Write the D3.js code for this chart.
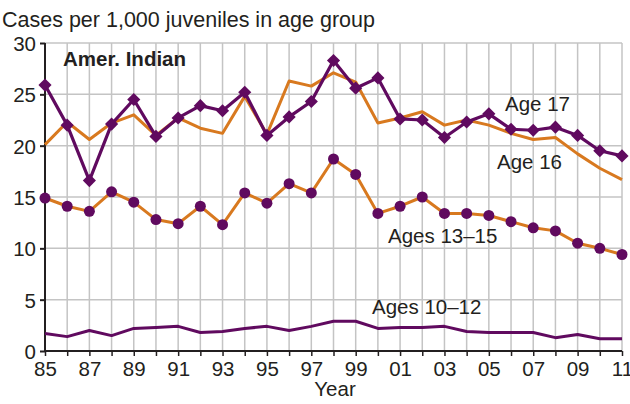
<!DOCTYPE html>
<html><head><meta charset="utf-8">
<script src="https://cdn.jsdelivr.net/npm/d3@7"></script>
<style>
body{margin:0;background:#fff;}
text{font-family:"Liberation Sans",Arial,Helvetica,sans-serif;fill:#231f20;}
</style></head>
<body>
<svg id="chart" width="630" height="404"></svg>
<script>
const years = d3.range(1985, 2012);
const age17 = [25.9,22.0,16.6,22.1,24.5,20.9,22.7,23.9,23.4,25.2,21.0,22.8,24.3,28.3,25.6,26.6,22.6,22.5,20.8,22.3,23.1,21.6,21.5,21.8,21.0,19.5,19.0];
const age16 = [20.1,22.3,20.6,22.2,23.0,21.0,22.7,21.7,21.2,24.8,21.1,26.3,25.8,27.1,26.2,22.2,22.7,23.3,22.0,22.5,22.0,21.2,20.6,20.8,19.2,17.8,16.7];
const age1315 = [14.9,14.1,13.6,15.5,14.5,12.8,12.4,14.1,12.3,15.4,14.4,16.3,15.4,18.7,17.2,13.4,14.1,15.0,13.4,13.4,13.2,12.6,12.0,11.7,10.5,10.0,9.4];
const age1012 = [1.7,1.4,2.0,1.5,2.2,2.3,2.4,1.8,1.9,2.2,2.4,2.0,2.4,2.9,2.9,2.2,2.3,2.3,2.4,1.9,1.8,1.8,1.8,1.3,1.6,1.2,1.2];
const yTicks = [0,5,10,15,20,25,30];

const purple = "#600a5f", orange = "#d8791f", grid = "#c4c4c4";
const fs = 20.5;
const svg = d3.select("#chart");
const x = d3.scaleLinear().domain([1985, 2011]).range([45, 622]);
const y = d3.scaleLinear().domain([0, 30]).range([351, 43]);

// grid
svg.append("g").selectAll("line").data(years.slice(1)).join("line")
  .attr("x1", d => x(d)).attr("x2", d => x(d)).attr("y1", y(30)).attr("y2", y(0))
  .attr("stroke", grid).attr("stroke-width", 1.5);
svg.append("g").selectAll("line").data(yTicks.slice(1)).join("line")
  .attr("x1", x(1985)).attr("x2", x(2011)).attr("y1", d => y(d)).attr("y2", d => y(d))
  .attr("stroke", grid).attr("stroke-width", 1.5);

// y axis
const yAxis = svg.append("g").attr("transform", `translate(${x(1985)},0)`)
  .call(d3.axisLeft(y).tickValues(yTicks).tickSize(5).tickPadding(4).tickFormat(d3.format("d")));
yAxis.select(".domain").attr("stroke", "#231f20").attr("stroke-width", 2).attr("d", `M0,${y(30)}V${y(0)}`);
yAxis.selectAll(".tick line").attr("stroke", "#231f20").attr("stroke-width", 2);
yAxis.selectAll(".tick text").attr("font-size", fs).attr("font-family", "Liberation Sans, Arial, sans-serif").attr("fill", "#231f20").attr("dy", "0.36em");

// x axis
const xAxis = svg.append("g").attr("transform", `translate(0,${y(0)})`)
  .call(d3.axisBottom(x).tickValues(years).tickSize(5).tickPadding(5)
    .tickFormat(d => d % 2 === 1 ? String(d).slice(2) : ""));
xAxis.select(".domain").attr("stroke", "#231f20").attr("stroke-width", 2).attr("d", `M${x(1985)},0H${x(2011)}`);
xAxis.selectAll(".tick line").attr("stroke", "#231f20").attr("stroke-width", 1.5);
xAxis.selectAll(".tick text").attr("font-size", fs).attr("font-family", "Liberation Sans, Arial, sans-serif").attr("fill", "#231f20");

const line = d3.line().x((d, i) => x(years[i])).y(d => y(d));
function drawLine(data, color, w) {
  svg.append("path").datum(data).attr("d", line).attr("fill", "none")
    .attr("stroke", color).attr("stroke-width", w).attr("stroke-linejoin", "round");
}
drawLine(age1012, purple, 3);
drawLine(age1315, orange, 3);
svg.append("g").selectAll("circle").data(age1315).join("circle")
  .attr("cx", (d, i) => x(years[i])).attr("cy", d => y(d)).attr("r", 5.5).attr("fill", purple);
drawLine(age16, orange, 3);
drawLine(age17, purple, 3.2);
const diamond = d3.symbol().type(d3.symbolDiamond2).size(110);
svg.append("g").selectAll("path").data(age17).join("path")
  .attr("d", diamond).attr("transform", (d, i) => `translate(${x(years[i])},${y(d)})`)
  .attr("fill", purple);

// texts
svg.append("text").attr("x", 2).attr("y", 27).attr("font-size", 21.5).text("Cases per 1,000 juveniles in age group");
svg.append("text").attr("x", 63).attr("y", 66).attr("font-size", fs).attr("font-weight", "bold").text("Amer. Indian");
svg.append("text").attr("x", 505).attr("y", 110.5).attr("font-size", fs).text("Age 17");
svg.append("text").attr("x", 497).attr("y", 168.5).attr("font-size", fs).text("Age 16");
svg.append("text").attr("x", 388).attr("y", 243).attr("font-size", fs).text("Ages 13–15");
svg.append("text").attr("x", 372).attr("y", 314).attr("font-size", fs).text("Ages 10–12");
svg.append("text").attr("x", 335).attr("y", 396).attr("font-size", fs).attr("text-anchor", "middle").text("Year");
</script>
</body></html>
